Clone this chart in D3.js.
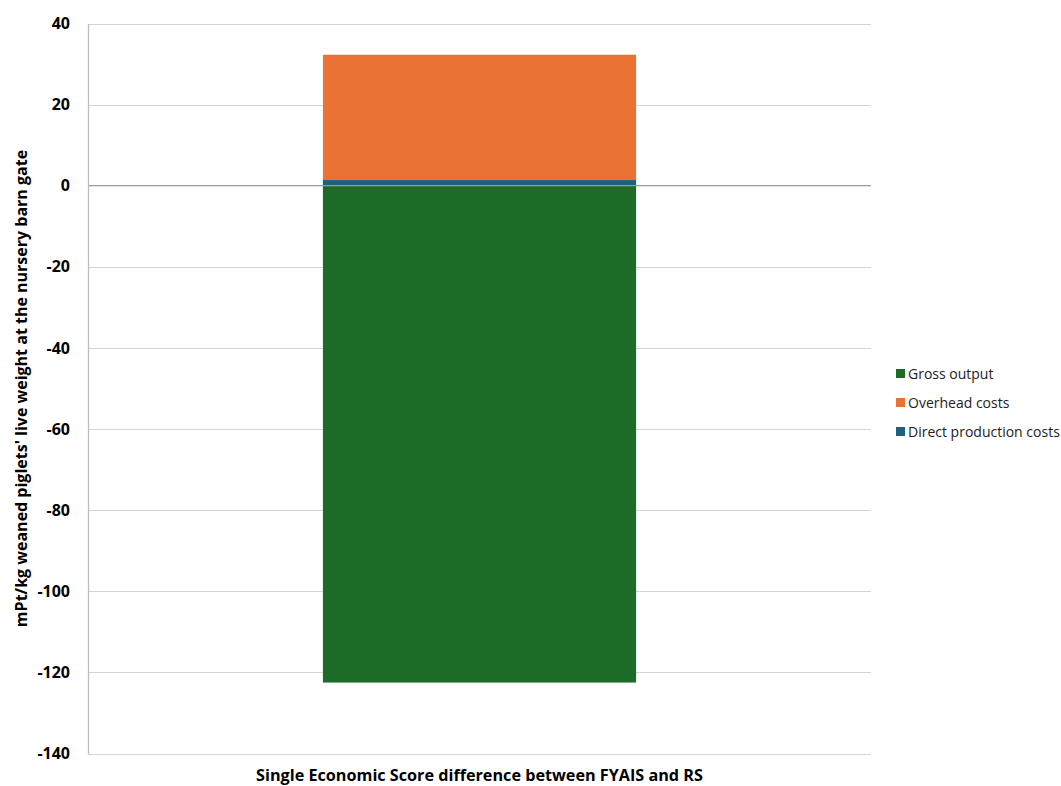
<!DOCTYPE html>
<html>
<head>
<meta charset="utf-8">
<script src="https://cdn.jsdelivr.net/npm/d3@7"></script>
<style>
  html, body { margin: 0; padding: 0; background: #fff; }
  svg { display: block; }
  text { font-family: "Open Sans", "Noto Sans", sans-serif; }
</style>
</head>
<body>
<svg id="chart" width="1061" height="786"></svg>
<script>
// Stacked column: single category, stacked components
const categories = ["Single Economic Score difference between FYAIS and RS"];
const seriesNames = ["Direct production costs", "Overhead costs", "Gross output"];
const directProductionCosts = [1.4];
const overheadCosts = [30.9];
const grossOutput = [-122.5];
const yTicks = [40, 20, 0, -20, -40, -60, -80, -100, -120, -140];
const legendOrder = ["Gross output", "Overhead costs", "Direct production costs"];

const colors = {
  "Gross output": "#1c6b26",
  "Overhead costs": "#e97234",
  "Direct production costs": "#1f5f80"
};

const valuesBySeries = {
  "Direct production costs": directProductionCosts,
  "Overhead costs": overheadCosts,
  "Gross output": grossOutput
};

const svg = d3.select("#chart");
const margin = { left: 88, right: 190, top: 23.5, bottom: 32.5 };
const W = 1061, H = 786;

const x = d3.scaleBand()
  .domain(categories)
  .range([margin.left, W - margin.right])
  .paddingInner(0.6)
  .paddingOuter(0.3);

const y = d3.scaleLinear()
  .domain([-140, 40])
  .range([H - margin.bottom, margin.top]);

// gridlines
svg.append("g")
  .selectAll("line")
  .data(yTicks.filter(t => t !== 0))
  .join("line")
  .attr("x1", margin.left)
  .attr("x2", W - margin.right)
  .attr("y1", d => Math.round(y(d)) + 0.5)
  .attr("y2", d => Math.round(y(d)) + 0.5)
  .attr("stroke", "#d4d4d4")
  .attr("stroke-width", 1);

// stacked segments: positives stack upward from zero, negatives downward
const table = categories.map((c, i) => {
  const row = { category: c };
  seriesNames.forEach(s => row[s] = valuesBySeries[s][i]);
  return row;
});
const stack = d3.stack()
  .keys(seriesNames)
  .offset(d3.stackOffsetDiverging);
const layers = stack(table);

svg.append("g")
  .selectAll("g")
  .data(layers)
  .join("g")
  .attr("fill", d => colors[d.key])
  .selectAll("rect")
  .data(d => d)
  .join("rect")
  .attr("x", d => x(d.data.category))
  .attr("width", x.bandwidth())
  .attr("y", d => y(Math.max(d[0], d[1])))
  .attr("height", d => Math.abs(y(d[0]) - y(d[1])));

// zero axis line
svg.append("line")
  .attr("x1", margin.left)
  .attr("x2", W - margin.right)
  .attr("y1", y(0))
  .attr("y2", y(0))
  .attr("stroke", "#9a9a9a")
  .attr("stroke-width", 1.2);

// y axis
const yAxis = d3.axisLeft(y)
  .tickValues(yTicks)
  .tickSize(0)
  .tickPadding(18)
  .tickFormat(d => String(d));
const ya = svg.append("g")
  .attr("transform", `translate(${margin.left},0)`)
  .call(yAxis);
ya.select(".domain").attr("stroke", "#bdbdbd").attr("stroke-width", 1.3);
ya.selectAll("text")
  .attr("font-family", "'Open Sans', sans-serif")
  .attr("font-size", 16)
  .attr("font-weight", "bold")
  .attr("fill", "#000");

// axis titles
svg.append("text")
  .attr("x", (margin.left + W - margin.right) / 2)
  .attr("y", 781)
  .attr("text-anchor", "middle")
  .attr("font-size", 16.2)
  .attr("font-weight", "bold")
  .attr("fill", "#000")
  .text(categories[0]);

svg.append("text")
  .attr("transform", `translate(27, ${(margin.top + H - margin.bottom) / 2}) rotate(-90)`)
  .attr("text-anchor", "middle")
  .attr("font-size", 16)
  .attr("font-weight", "bold")
  .attr("fill", "#000")
  .text("mPt/kg weaned piglets' live weight at the nursery barn gate");

// legend
const legend = svg.append("g")
  .selectAll("g")
  .data(legendOrder)
  .join("g")
  .attr("transform", (d, i) => `translate(896, ${369 + i * 29})`);
legend.append("rect")
  .attr("width", 9)
  .attr("height", 9)
  .attr("fill", d => colors[d]);
legend.append("text")
  .attr("x", 12)
  .attr("y", 9.5)
  .attr("font-size", 14)
  .attr("fill", "#222")
  .text(d => d);
</script>
</body>
</html>
